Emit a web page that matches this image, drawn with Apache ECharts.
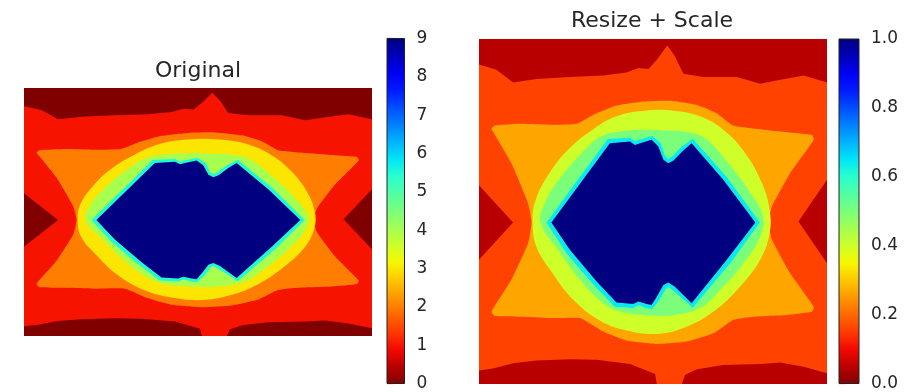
<!DOCTYPE html>
<html>
<head>
<meta charset="utf-8">
<script src="https://cdn.jsdelivr.net/npm/echarts@6/dist/echarts.min.js"></script>
<style>
  html, body { margin: 0; padding: 0; background: #ffffff; }
  #chart { width: 913px; height: 392px; }
</style>
</head>
<body>
<div id="chart"></div>
<script>
// Reversed "jet" colour map, low values first (dark red) to high values (navy).
const JET_R = ['#800000', '#b90000', '#f30900', '#ff3900', '#ff6800', '#ff9700', '#ffc600',
  '#f7f600', '#ceff29', '#a4ff52', '#7bff7b', '#52ffa4', '#29ffce', '#00e5f7', '#00b3ff',
  '#0080ff', '#004dff', '#001aff', '#0000f3', '#0000b9', '#000080'];

// Level regions of the eye pattern, in image coordinates (x 0..100 left to right, y 0..100 top to bottom).
const background = [[0, 0], [100, 0], [100, 100], [0, 100]];

const outerBand = [
  [0, 7.4], [5.0, 8.9], [9.8, 12.6], [16.5, 11.6], [26.1, 11.0], [35.7, 10.6], [42.4, 9.7],
  [45.8, 8.4], [48.7, 8.7], [51.1, 6.0], [54.1, 1.9], [56.3, 5.0], [58.7, 10.1], [64.5, 11.0],
  [74.1, 11.0], [80.8, 13.0], [86.6, 11.8], [93.3, 10.6], [100, 12.6],
  [100, 40.8], [91.8, 52.9], [100, 65.0],
  [100, 96.9], [93.3, 95.0], [86.6, 93.8], [80.8, 94.2], [70.2, 94.5], [62.6, 95.7],
  [59.2, 97.4], [58.3, 100], [51.1, 100], [50.6, 97.1], [43.4, 94.2], [33.8, 93.0],
  [26.1, 92.8], [16.5, 93.2], [9.8, 94.0], [4.0, 95.5], [0, 96.1],
  [0, 64.0], [9.8, 53.2], [0, 42.4]
];

const wings = [
  [4.5, 25.1], [11.7, 24.6], [21.3, 24.9], [28.0, 24.6], [32.8, 22.0], [39.5, 19.3],
  [47.2, 18.1], [54.9, 17.9], [62.6, 19.1], [68.3, 21.5], [73.1, 25.1], [81.8, 26.3],
  [91.4, 27.3], [95.7, 27.8], [96.2, 29.2], [89.4, 38.9], [84.2, 48.5], [83.2, 53.2],
  [84.2, 58.2], [89.4, 67.9], [96.2, 77.6], [95.7, 79.0], [88.5, 80.0], [78.9, 80.5],
  [73.1, 81.4], [67.4, 85.3], [59.7, 87.7], [51.1, 88.4], [42.4, 87.4], [35.7, 84.8],
  [29.0, 80.9], [21.3, 80.9], [11.7, 80.5], [4.5, 80.3], [3.6, 79.0], [9.3, 69.8],
  [14.1, 59.2], [15.1, 53.2], [14.1, 47.6], [9.3, 36.0], [4.0, 26.8], [3.6, 26.1]
];

const ring = [
  [15.4, 53.2], [16.3, 46.6], [19.9, 39.4], [25.1, 32.6], [31.9, 26.8], [39.5, 22.4],
  [48.2, 20.7], [55.9, 20.8], [63.5, 22.4], [70.2, 26.3], [76.5, 33.1], [81.3, 41.8],
  [83.5, 49.5], [83.5, 56.3], [80.8, 64.0], [75.0, 71.8], [67.4, 79.0], [58.7, 83.8],
  [51.1, 85.5], [42.4, 84.5], [34.7, 81.6], [27.1, 75.6], [20.8, 67.4], [16.5, 60.2]
];

const innerRing = [
  [17.7, 53.2], [19.4, 46.6], [23.7, 39.8], [29.5, 33.1], [35.2, 28.2], [40.5, 26.8],
  [47.2, 26.3], [53.9, 26.5], [60.7, 27.1], [65.5, 29.2], [71.2, 35.5], [77.4, 43.7],
  [81.6, 51.5], [80.8, 57.3], [76.0, 65.0], [69.3, 72.7], [63.5, 78.0], [55.9, 80.0],
  [47.2, 80.0], [40.5, 79.0], [35.7, 76.6], [29.0, 69.8], [22.7, 61.1]
];

const edge = [
  [19.4, 53.2], [37.0, 29.0], [43.4, 28.6], [44.8, 29.6], [46.3, 29.1], [49.8, 28.1],
  [52.3, 30.3], [53.4, 33.8], [54.4, 34.8], [55.4, 34.1], [58.2, 31.2], [61.4, 28.9],
  [71.2, 40.0], [80.7, 53.2], [72.2, 65.0], [61.4, 77.9], [55.9, 73.0], [54.4, 71.8],
  [53.6, 72.5], [51.8, 75.8], [49.7, 78.3], [48.1, 78.0], [45.8, 77.2], [44.3, 78.0],
  [39.0, 77.6], [32.9, 71.2], [25.1, 62.0]
];

const core = [
  [20.8, 53.2], [37.6, 30.2], [43.4, 29.7], [44.8, 30.7], [46.3, 30.2], [49.6, 29.2],
  [51.5, 31.1], [53.0, 35.0], [54.4, 36.0], [55.9, 35.2], [58.7, 32.3], [61.1, 30.2],
  [70.2, 40.8], [79.4, 53.2], [71.2, 64.0], [61.1, 76.6], [56.3, 71.8], [54.4, 70.6],
  [53.0, 71.3], [51.1, 74.7], [49.6, 77.1], [48.2, 76.8], [45.8, 76.1], [44.3, 76.8],
  [39.5, 76.4], [33.8, 70.3], [26.1, 61.1]
];

const regions = [background, outerBand, wings, ring, innerRing, edge, core];
// Outline rounding per region (0 keeps sharp corners).
const regionSmooth = [0, 0, 0.15, 0.4, 0.4, 0, 0];

// Value of each region, original counts and the resized, rescaled image.
const originalLevels = [0, 1, 2, 3, 4, 5.5, 9];
const scaledLevels = [0.05, 0.16, 0.265, 0.40, 0.50, 0.64, 1.0];

// Colour bar ranges and ticks.
const originalRange = [0, 9];
const originalTickStep = 1;
const scaledRange = [0, 1];
const scaledTickStep = 0.2;

const FONT = 'DejaVu Sans';
const TEXT_COLOR = '#262626';

function regionItems(levels) {
  return levels.map((v, i) => [v, i]);
}

function renderRegion(params, api) {
  const idx = api.value(1);
  const pts = regions[idx].map(p => api.coord(p));
  return {
    type: 'polygon',
    shape: { points: pts, smooth: regionSmooth[idx] },
    style: { fill: api.visual('color'), stroke: null }
  };
}

function renderColorBar(params, api) {
  const topLeft = api.coord([0, api.value(3)]);
  const bottomRight = api.coord([1, api.value(1)]);
  const stops = JET_R.map((c, i) => ({ offset: i / (JET_R.length - 1), color: c }));
  return {
    type: 'rect',
    shape: {
      x: topLeft[0], y: topLeft[1],
      width: bottomRight[0] - topLeft[0], height: bottomRight[1] - topLeft[1]
    },
    style: {
      fill: new echarts.graphic.LinearGradient(0, 1, 0, 0, stops),
      stroke: '#222222', lineWidth: 1
    }
  };
}

function imageAxes(gridIndex) {
  return {
    x: { gridIndex, type: 'value', min: 0, max: 100, show: false },
    y: { gridIndex, type: 'value', min: 0, max: 100, inverse: true, show: false }
  };
}

function barAxes(gridIndex, range, step, digits) {
  return {
    x: { gridIndex, type: 'value', min: 0, max: 1, show: false },
    y: {
      gridIndex, type: 'value', position: 'right',
      min: range[0], max: range[1], interval: step,
      axisLine: { show: false },
      splitLine: { show: false },
      axisTick: { show: true, length: 6, lineStyle: { color: '#222222', width: 1.2 } },
      axisLabel: {
        show: true, margin: 12, fontFamily: FONT, fontSize: 17, color: TEXT_COLOR,
        formatter: v => v.toFixed(digits)
      }
    }
  };
}

const ax = [
  imageAxes(0),
  barAxes(1, originalRange, originalTickStep, 0),
  imageAxes(2),
  barAxes(3, scaledRange, scaledTickStep, 1)
];

const chart = echarts.init(document.getElementById('chart'), null, { renderer: 'canvas' });

chart.setOption({
  animation: false,
  backgroundColor: '#ffffff',
  grid: [
    { left: 24, top: 88, width: 348, height: 248 },
    { left: 387, top: 38.5, width: 17.5, height: 349 },
    { left: 479, top: 39, width: 348, height: 345 },
    { left: 839, top: 39, width: 20, height: 349 }
  ],
  xAxis: ax.map(a => a.x),
  yAxis: ax.map(a => a.y),
  visualMap: [
    {
      type: 'continuous', show: false, seriesIndex: 0, dimension: 0,
      min: originalRange[0], max: originalRange[1], inRange: { color: JET_R }
    },
    {
      type: 'continuous', show: false, seriesIndex: 2, dimension: 0,
      min: scaledRange[0], max: scaledRange[1], inRange: { color: JET_R }
    }
  ],
  graphic: [
    {
      type: 'text', x: 198, y: 71,
      style: { text: 'Original', fontFamily: FONT, fontSize: 22, fill: TEXT_COLOR, align: 'center', verticalAlign: 'middle' }
    },
    {
      type: 'text', x: 652, y: 21,
      style: { text: 'Resize + Scale', fontFamily: FONT, fontSize: 22, fill: TEXT_COLOR, align: 'center', verticalAlign: 'middle' }
    }
  ],
  series: [
    {
      name: 'Original', type: 'custom', xAxisIndex: 0, yAxisIndex: 0,
      renderItem: renderRegion, data: regionItems(originalLevels),
      encode: { x: -1, y: -1 }, silent: true
    },
    {
      name: 'Original colour bar', type: 'custom', xAxisIndex: 1, yAxisIndex: 1,
      renderItem: renderColorBar, data: [[0, originalRange[0], 1, originalRange[1]]],
      silent: true
    },
    {
      name: 'Resize + Scale', type: 'custom', xAxisIndex: 2, yAxisIndex: 2,
      renderItem: renderRegion, data: regionItems(scaledLevels),
      encode: { x: -1, y: -1 }, silent: true
    },
    {
      name: 'Resize + Scale colour bar', type: 'custom', xAxisIndex: 3, yAxisIndex: 3,
      renderItem: renderColorBar, data: [[0, scaledRange[0], 1, scaledRange[1]]],
      silent: true
    }
  ]
});
</script>
</body>
</html>
